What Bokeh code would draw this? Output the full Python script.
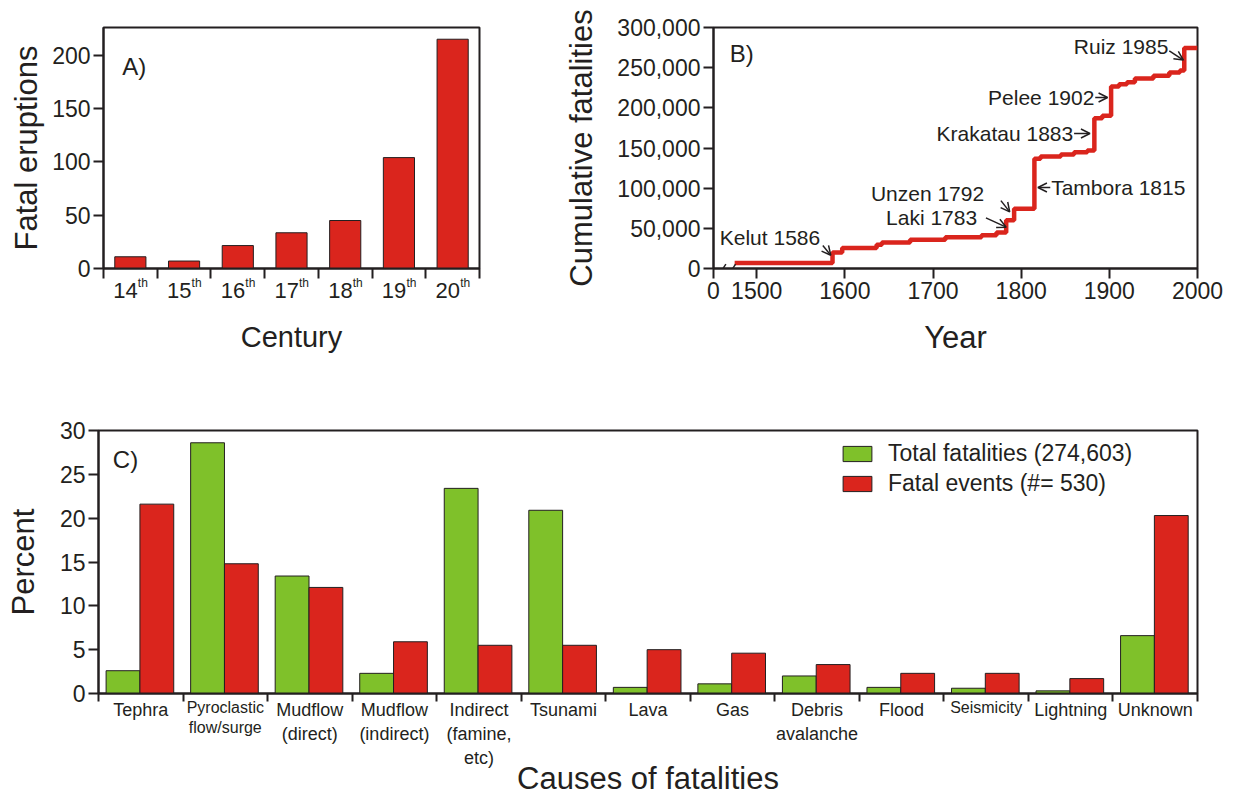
import numpy as np
from bokeh.plotting import figure
from bokeh.layouts import column, row
from bokeh.models import (FixedTicker, NumeralTickFormatter, Label, Arrow, OpenHead,
                          Legend, LegendItem, LinearAxis)
from bokeh.embed import file_html
from bokeh.resources import INLINE

FONT = "Liberation Sans"
INK = "#231f20"
RED = "#da251d"
GREEN = "#7fc12a"

# ---- A) fatal eruptions per century ----
centuries = ["14", "15", "16", "17", "18", "19", "20"]
fatal_eruptions = [11, 7, 21.5, 33.5, 45, 104, 215]

# ---- B) cumulative fatalities through time ----
years = [1475, 1586, 1597, 1636, 1642, 1674, 1714, 1755, 1772, 1783, 1792, 1815,
         1822, 1845, 1860, 1875, 1883, 1892, 1902, 1911, 1920, 1929, 1950, 1968,
         1980, 1985, 2000]
cumulative = [7000, 20000, 25500, 29500, 32500, 35700, 39000, 41300, 44700, 60000,
              74500, 136500, 139400, 141900, 144800, 146900, 187000, 190300, 226500,
              229500, 232000, 236500, 240000, 244000, 246500, 274603, 274603]
year_ticks = [1500, 1600, 1700, 1800, 1900, 2000]
fatality_ticks = [0, 50000, 100000, 150000, 200000, 250000, 300000]
events = ["Kelut 1586", "Laki 1783", "Unzen 1792", "Tambora 1815",
          "Krakatau 1883", "Pelee 1902", "Ruiz 1985"]

# ---- C) causes of fatalities ----
causes = ["Tephra", "Pyroclastic\nflow/surge", "Mudflow\n(direct)",
          "Mudflow\n(indirect)", "Indirect\n(famine,\netc)", "Tsunami",
          "Lava", "Gas", "Debris\navalanche", "Flood", "Seismicity",
          "Lightning", "Unknown"]
total_fatalities_pct = [2.6, 28.6, 13.4, 2.3, 23.4, 20.9, 0.7, 1.1, 2.0, 0.7, 0.6, 0.3, 6.6]
fatal_events_pct = [21.6, 14.8, 12.1, 5.9, 5.5, 5.5, 5.0, 4.6, 3.3, 2.3, 2.3, 1.7, 20.3]
series_names = ["Total fatalities (274,603)", "Fatal events (#= 530)"]


def base_style(p, tick_size="23px", label_size="31px"):
    p.xgrid.visible = False
    p.ygrid.visible = False
    p.outline_line_color = INK
    p.outline_line_width = 2
    p.outline_line_alpha = 1
    p.background_fill_color = "white"
    p.border_fill_color = "white"
    for ax in p.axis:
        style_axis(ax, tick_size, label_size)


def style_axis(ax, tick_size, label_size="31px"):
    ax.axis_line_color = INK
    ax.axis_line_width = 2
    ax.major_tick_line_color = INK
    ax.major_tick_line_width = 2
    ax.major_tick_in = 0
    ax.major_tick_out = 10
    ax.minor_tick_line_color = None
    ax.major_label_text_font = FONT
    ax.major_label_text_font_size = tick_size
    ax.major_label_text_color = INK
    ax.axis_label_text_font = FONT
    ax.axis_label_text_font_style = "normal"
    ax.axis_label_text_font_size = label_size
    ax.axis_label_text_color = INK


def boundary_ticks(ax, length):
    """Category separators drawn as minor ticks; labels sit on untagged major ticks."""
    ax.major_tick_out = 0
    ax.minor_tick_in = 0
    ax.minor_tick_out = length
    ax.minor_tick_line_color = INK
    ax.minor_tick_line_width = 2


def text(p, x, y, s, size, align="left", baseline="middle"):
    p.add_layout(Label(x=x, y=y, text=s, text_font=FONT, text_font_size=size,
                       text_color=INK, text_align=align, text_baseline=baseline))


# ================= Panel A =================
pA = figure(width=560, height=384, x_range=(0, 7), y_range=(0, 226),
            output_backend="svg", toolbar_location=None,
            min_border_left=103, min_border_right=81, min_border_top=19,
            min_border_bottom=115)
base_style(pA)
pA.vbar(x=np.arange(len(centuries)) + 0.5, top=fatal_eruptions, width=0.58,
        fill_color=RED, line_color=INK, line_width=1)
pA.yaxis.ticker = FixedTicker(ticks=[0, 50, 100, 150, 200])
pA.yaxis.major_label_standoff = 3
pA.yaxis.axis_label = "Fatal eruptions"
pA.yaxis.axis_label_standoff = 5

num_pos = [round(i + 0.41, 3) for i in range(len(centuries))]
sup_pos = [round(i + 0.733, 3) for i in range(len(centuries))]
xa = pA.xaxis[0]
xa.ticker = FixedTicker(ticks=num_pos, minor_ticks=list(range(len(centuries) + 1)))
xa.major_label_overrides = dict(zip(num_pos, centuries))
xa.major_label_text_font_size = "22px"
xa.major_label_standoff = 4
boundary_ticks(xa, 10)
xs = LinearAxis(ticker=FixedTicker(ticks=sup_pos),
                major_label_overrides={v: "th" for v in sup_pos})
style_axis(xs, "12px", "29px")
xs.axis_line_color = None
xs.major_tick_out = 0
xs.major_label_standoff = -25
xs.axis_label = "Century"
xs.axis_label_standoff = 28
pA.add_layout(xs, "below")
text(pA, 0.35, 189, "A)", "24px")

# ================= Panel B =================
pB = figure(width=675, height=384, x_range=(1451, 2000), y_range=(0, 300000),
            output_backend="svg", toolbar_location=None,
            min_border_left=153, min_border_right=38, min_border_top=27,
            min_border_bottom=116)
base_style(pB)
pB.step(x=years, y=cumulative, mode="after", line_color=RED, line_width=4.5)
pB.yaxis.ticker = FixedTicker(ticks=fatality_ticks)
pB.yaxis.formatter = NumeralTickFormatter(format="0,0")
pB.yaxis.major_label_standoff = 3
pB.yaxis.axis_label = "Cumulative fatalities"
pB.yaxis.axis_label_standoff = 15
pB.xaxis.ticker = FixedTicker(ticks=[1451] + year_ticks)
pB.xaxis.major_label_overrides = {1451: "0"}
pB.xaxis.major_label_standoff = 3
pB.xaxis.axis_label = "Year"
pB.xaxis.axis_label_standoff = 18

# axis break on the year axis
for xb in (1462, 1473):
    pB.add_layout(Arrow(x_start=xb - 3, y_start=-5000, x_end=xb + 3, y_end=5500,
                        end=None, line_color=INK, line_width=1.5))

# event annotations: (text x, text y, align, arrow start, arrow end)
notes = [
    (1572, 38600, "right", (1575, 28600), (1584, 16500)),
    (1750, 63500, "right", (1760, 63000), (1783, 51500)),
    (1758, 93400, "right", (1777, 84500), (1787, 70500)),
    (1834, 100800, "left", (1833, 100800), (1819, 100800)),
    (1859, 168000, "right", (1860, 168000), (1878, 168000)),
    (1883, 212900, "right", (1884, 212900), (1898, 212900)),
    (1967, 276400, "right", (1968, 271000), (1984, 259500)),
]
for name, (tx, ty, al, a0, a1) in zip(events, notes):
    text(pB, tx, ty, name, "21px", align=al)
    pB.add_layout(Arrow(x_start=a0[0], y_start=a0[1], x_end=a1[0], y_end=a1[1],
                        line_color=INK, line_width=1.5,
                        end=OpenHead(size=9, line_color=INK, line_width=1.5)))
text(pB, 1469.5, 267700, "B)", "24px")

# ================= Panel C =================
pC = figure(width=1235, height=414, x_range=(0, len(causes)), y_range=(0, 30),
            output_backend="svg", toolbar_location=None,
            min_border_left=98, min_border_right=38, min_border_top=46,
            min_border_bottom=105)
base_style(pC)
idx = np.arange(len(causes))
rg = pC.vbar(x=idx + 0.29, top=total_fatalities_pct, width=0.40,
             fill_color=GREEN, line_color=INK, line_width=1)
rr = pC.vbar(x=idx + 0.69, top=fatal_events_pct, width=0.40,
             fill_color=RED, line_color=INK, line_width=1)
pC.yaxis.ticker = FixedTicker(ticks=[0, 5, 10, 15, 20, 25, 30])
pC.yaxis.major_label_standoff = 3
pC.yaxis.axis_label = "Percent"
pC.yaxis.axis_label_standoff = 16

# long names are set in a smaller face on a second label row
small = {1, 10}
centers = [i + 0.5 for i in range(len(causes))]
big_ticks = [centers[i] for i in range(len(causes)) if i not in small]
small_ticks = [centers[i] for i in sorted(small)]
xc = pC.xaxis[0]
xc.ticker = FixedTicker(ticks=big_ticks, minor_ticks=list(range(len(causes) + 1)))
xc.major_label_overrides = {centers[i]: causes[i] for i in range(len(causes)) if i not in small}
xc.major_label_text_font_size = "18px"
xc.major_label_standoff = -2
boundary_ticks(xc, 8)
xc2 = LinearAxis(ticker=FixedTicker(ticks=small_ticks),
                 major_label_overrides={centers[i]: causes[i] for i in sorted(small)})
style_axis(xc2, "16px")
xc2.axis_line_color = None
xc2.major_tick_out = 0
xc2.major_label_standoff = -72
xc2.axis_label = "Causes of fatalities"
xc2.axis_label_standoff = 22
pC.add_layout(xc2, "below")
text(pC, 0.17, 26.7, "C)", "24px")

legend = Legend(items=[LegendItem(label=series_names[0], renderers=[rg]),
                       LegendItem(label=series_names[1], renderers=[rr])],
                location=(741, 196), orientation="vertical",
                label_text_font=FONT, label_text_font_size="23px",
                label_text_color=INK, glyph_width=36, glyph_height=19,
                label_standoff=13, spacing=3, padding=0, margin=0,
                border_line_alpha=0, background_fill_alpha=0)
pC.add_layout(legend)

layout = column(row(pA, pB), pC)
open("out.html", "w").write(file_html(layout, INLINE))
